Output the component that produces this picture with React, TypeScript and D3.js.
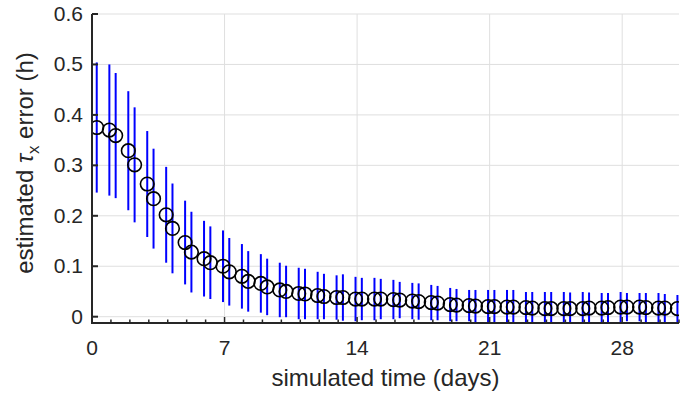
import { useEffect, useRef } from 'react'
import * as d3 from 'd3'

// sample times (days) of the estimates
const days = [
  0.25, 0.917, 1.25, 1.917, 2.25, 2.917, 3.25, 3.917, 4.25, 4.917,
  5.25, 5.917, 6.25, 6.917, 7.25, 7.917, 8.25, 8.917, 9.25, 9.917,
  10.25, 10.917, 11.25, 11.917, 12.25, 12.917, 13.25, 13.917, 14.25, 14.917,
  15.25, 15.917, 16.25, 16.917, 17.25, 17.917, 18.25, 18.917, 19.25, 19.917,
  20.25, 20.917, 21.25, 21.917, 22.25, 22.917, 23.25, 23.917, 24.25, 24.917,
  25.25, 25.917, 26.25, 26.917, 27.25, 27.917, 28.25, 28.917, 29.25, 29.917,
  30.25, 30.917,
]

// mean estimated tau_x error (h)
const meanError = [
  0.375, 0.370, 0.359, 0.329, 0.301, 0.263, 0.234, 0.202, 0.175, 0.147,
  0.128, 0.115, 0.107, 0.100, 0.089, 0.080, 0.070, 0.066, 0.059, 0.053,
  0.050, 0.046, 0.045, 0.042, 0.040, 0.038, 0.038, 0.035, 0.035, 0.035,
  0.035, 0.034, 0.033, 0.031, 0.030, 0.028, 0.027, 0.024, 0.023, 0.022,
  0.021, 0.020, 0.020, 0.019, 0.019, 0.018, 0.017, 0.016, 0.016, 0.016,
  0.016, 0.016, 0.017, 0.017, 0.018, 0.019, 0.019, 0.019, 0.018, 0.017,
  0.017, 0.016,
]

// half length of the error bars
const spread = [
  0.129, 0.130, 0.124, 0.118, 0.114, 0.105, 0.099, 0.095, 0.089, 0.083,
  0.080, 0.075, 0.072, 0.071, 0.067, 0.064, 0.060, 0.058, 0.056, 0.054,
  0.051, 0.051, 0.050, 0.047, 0.045, 0.044, 0.046, 0.044, 0.042, 0.042,
  0.040, 0.039, 0.036, 0.036, 0.036, 0.035, 0.034, 0.033, 0.032, 0.031,
  0.032, 0.033, 0.033, 0.034, 0.034, 0.031, 0.032, 0.033, 0.033, 0.033,
  0.032, 0.033, 0.031, 0.030, 0.029, 0.030, 0.028, 0.028, 0.029, 0.030,
  0.028, 0.027,
]

const xTicks = [0, 7, 14, 21, 28]
const xMinorTicks = d3.range(0, 32)
const yTicks = [0, 0.1, 0.2, 0.3, 0.4, 0.5, 0.6]
const xLabel = 'simulated time (days)'

export default function App() {
  const ref = useRef<SVGSVGElement>(null)

  useEffect(() => {
    if (!ref.current) return
    const svg = d3.select(ref.current)
    svg.selectAll('*').remove()

    const left = 92, right = 679, top = 14, bottom = 323
    const x = d3.scaleLinear().domain([0, 31]).range([left, right])
    const y = d3.scaleLinear().domain([-0.0125, 0.6]).range([bottom, top])
    const axisColor = '#262626'
    const font = '"Liberation Sans", Arial, Helvetica, sans-serif'

    svg.append('defs')
      .append('clipPath')
      .attr('id', 'plot-clip')
      .append('rect')
      .attr('x', left)
      .attr('y', top)
      .attr('width', right - left)
      .attr('height', bottom - top)

    // grid
    const grid = svg.append('g')
    grid.selectAll('line.gx')
      .data(xTicks)
      .join('line')
      .attr('x1', (d) => x(d))
      .attr('x2', (d) => x(d))
      .attr('y1', top)
      .attr('y2', bottom)
      .attr('stroke', '#dfdfdf')
      .attr('stroke-width', 1)
    grid.selectAll('line.gy')
      .data(yTicks)
      .join('line')
      .attr('x1', left)
      .attr('x2', right)
      .attr('y1', (d) => y(d))
      .attr('y2', (d) => y(d))
      .attr('stroke', '#dfdfdf')
      .attr('stroke-width', 1)

    const plot = svg.append('g').attr('clip-path', 'url(#plot-clip)')

    // error bars
    plot.selectAll('line.err')
      .data(days)
      .join('line')
      .attr('x1', (d) => x(d))
      .attr('x2', (d) => x(d))
      .attr('y1', (_, i) => y(meanError[i] - spread[i]))
      .attr('y2', (_, i) => y(meanError[i] + spread[i]))
      .attr('stroke', '#0000ff')
      .attr('stroke-width', 2)

    // markers
    plot.selectAll('circle')
      .data(days)
      .join('circle')
      .attr('cx', (d) => x(d))
      .attr('cy', (_, i) => y(meanError[i]))
      .attr('r', 6.8)
      .attr('fill', 'none')
      .attr('stroke', '#000')
      .attr('stroke-width', 1.6)

    // axes lines and ticks
    const axes = svg.append('g').attr('stroke', axisColor)
    axes.append('line')
      .attr('x1', left).attr('x2', left)
      .attr('y1', top).attr('y2', bottom + 1)
      .attr('stroke-width', 2)
    axes.append('line')
      .attr('x1', left - 1).attr('x2', right)
      .attr('y1', bottom).attr('y2', bottom)
      .attr('stroke-width', 2)
    axes.selectAll('line.ty')
      .data(yTicks)
      .join('line')
      .attr('x1', left)
      .attr('x2', left + 6)
      .attr('y1', (d) => y(d))
      .attr('y2', (d) => y(d))
      .attr('stroke-width', 2)
    axes.selectAll('line.tx')
      .data(xMinorTicks)
      .join('line')
      .attr('x1', (d) => x(d))
      .attr('x2', (d) => x(d))
      .attr('y1', bottom)
      .attr('y2', (d) => bottom - (d % 7 === 0 ? 6 : 3.5))
      .attr('stroke-width', 1.5)

    // tick labels
    svg.append('g')
      .selectAll('text')
      .data(yTicks)
      .join('text')
      .attr('x', left - 9)
      .attr('y', (d) => y(d) + 7)
      .attr('text-anchor', 'end')
      .style('font-family', font)
      .style('font-size', '21px')
      .style('fill', axisColor)
      .text((d) => d3.format('.1~f')(d))

    svg.append('g')
      .selectAll('text')
      .data(xTicks)
      .join('text')
      .attr('x', (d) => x(d))
      .attr('y', 355)
      .attr('text-anchor', 'middle')
      .style('font-family', font)
      .style('font-size', '21px')
      .style('fill', axisColor)
      .text((d) => String(d))

    // axis labels
    svg.append('text')
      .attr('x', (left + right) / 2)
      .attr('y', 386)
      .attr('text-anchor', 'middle')
      .style('font-family', font)
      .style('font-size', '24px')
      .style('fill', axisColor)
      .text(xLabel)

    const yl = svg.append('text')
      .attr('transform', 'translate(33, 163) rotate(-90)')
      .attr('text-anchor', 'middle')
      .style('font-family', font)
      .style('font-size', '24px')
      .style('fill', axisColor)
    yl.append('tspan').text('estimated ')
    yl.append('tspan').style('font-style', 'italic').text('τ')
    yl.append('tspan').attr('dy', 6).style('font-size', '17px').text('x')
    yl.append('tspan').attr('dy', -6).text(' error (h)')
  }, [])

  return (
    <div style={{ position: 'fixed', left: 0, top: 0, width: 696, height: 396, background: '#fff' }}>
      <svg ref={ref} width={696} height={396} />
    </div>
  )
}
